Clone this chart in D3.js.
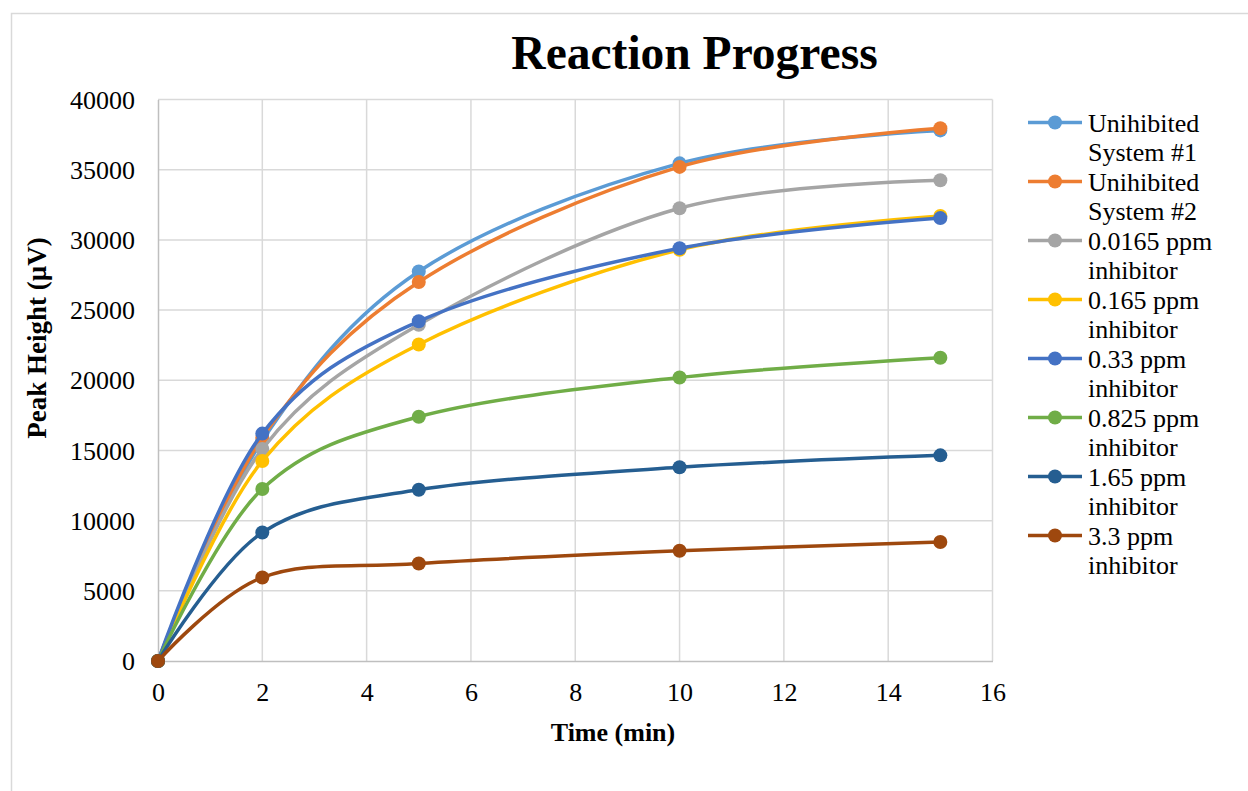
<!DOCTYPE html>
<html>
<head>
<meta charset="utf-8">
<script src="https://cdn.jsdelivr.net/npm/d3@7"></script>
<style>
  html, body { margin: 0; padding: 0; background: #fff; }
  svg { display: block; font-family: "Liberation Serif", "Times New Roman", serif; }
</style>
</head>
<body>
<svg id="chart" width="1248" height="791"></svg>
<script>
// Sampling times (min)
const times = [0, 2, 5, 10, 15];

// Peak height (µV) for each run
const unihibited1 = [0, 15700, 27750, 35450, 37800];
const unihibited2 = [0, 15900, 27000, 35200, 37950];
const inhib00165 = [0, 15100, 23950, 32250, 34250];
const inhib0165 = [0, 14250, 22550, 29300, 31700];
const inhib033 = [0, 16200, 24200, 29400, 31550];
const inhib0825 = [0, 12250, 17400, 20200, 21600];
const inhib165 = [0, 9150, 12200, 13800, 14650];
const inhib33 = [0, 5950, 6950, 7850, 8480];

const seriesNames = [
  ["Unihibited", "System #1"],
  ["Unihibited", "System #2"],
  ["0.0165 ppm", "inhibitor"],
  ["0.165 ppm", "inhibitor"],
  ["0.33 ppm", "inhibitor"],
  ["0.825 ppm", "inhibitor"],
  ["1.65 ppm", "inhibitor"],
  ["3.3 ppm", "inhibitor"]
];
const seriesValues = [unihibited1, unihibited2, inhib00165, inhib0165, inhib033, inhib0825, inhib165, inhib33];
const seriesColors = ["#5B9BD5", "#ED7D31", "#A5A5A5", "#FFC000", "#4472C4", "#70AD47", "#255E91", "#9E480E"];

const xTicks = [0, 2, 4, 6, 8, 10, 12, 14, 16];
const yTicks = [0, 5000, 10000, 15000, 20000, 25000, 30000, 35000, 40000];

const serif = "'Liberation Serif', 'Times New Roman', serif";
const svg = d3.select("#chart");

// chart frame
svg.append("rect")
  .attr("x", 11.5).attr("y", 13.5)
  .attr("width", 1300).attr("height", 900)
  .attr("fill", "#fff").attr("stroke", "#d9d9d9").attr("stroke-width", 1.5);

const plot = { left: 158, right: 992.5, top: 99.5, bottom: 661 };

const x = d3.scaleLinear().domain([0, 16]).range([plot.left, plot.right]);
const y = d3.scaleLinear().domain([0, 40000]).range([plot.bottom, plot.top]);

// gridlines
const grid = svg.append("g");
grid.selectAll("line.h").data(yTicks.filter(d => d > 0)).join("line")
  .attr("x1", plot.left).attr("x2", plot.right)
  .attr("y1", d => y(d)).attr("y2", d => y(d))
  .attr("stroke", "#d9d9d9").attr("stroke-width", 1.5);
grid.selectAll("line.v").data(xTicks.filter(d => d > 0)).join("line")
  .attr("x1", d => x(d)).attr("x2", d => x(d))
  .attr("y1", plot.top).attr("y2", plot.bottom)
  .attr("stroke", "#d9d9d9").attr("stroke-width", 1.5);

// axes
const xAxis = svg.append("g")
  .attr("transform", `translate(0,${plot.bottom})`)
  .call(d3.axisBottom(x).tickValues(xTicks).tickSize(0).tickPadding(0).tickFormat(d3.format("d")));
xAxis.attr("font-family", null);
xAxis.select(".domain").attr("stroke", "#bfbfbf").attr("stroke-width", 1.5);
xAxis.selectAll("text")
  .style("font-family", serif).attr("font-size", 26).attr("fill", "#000")
  .attr("dy", null).attr("y", 40);

const yAxis = svg.append("g")
  .attr("transform", `translate(${plot.left},0)`)
  .call(d3.axisLeft(y).tickValues(yTicks).tickSize(0).tickPadding(0).tickFormat(d3.format("d")));
yAxis.attr("font-family", null);
yAxis.select(".domain").attr("stroke", "#bfbfbf").attr("stroke-width", 1.5);
yAxis.selectAll("text")
  .style("font-family", serif).attr("font-size", 26).attr("fill", "#000")
  .attr("x", -23).attr("dy", "0.33em");

// series
const line = d3.line()
  .x((d, i) => x(times[i]))
  .y(d => y(d))
  .curve(d3.curveCardinal.tension(0));

const series = svg.append("g").selectAll("g").data(seriesValues).join("g");
series.append("path")
  .attr("d", d => line(d))
  .attr("fill", "none")
  .attr("stroke", (d, i) => seriesColors[i])
  .attr("stroke-width", 3.5)
  .attr("stroke-linejoin", "round")
  .attr("stroke-linecap", "round");
series.each(function(vals, si) {
  d3.select(this).selectAll("circle").data(vals).join("circle")
    .attr("cx", (d, i) => x(times[i]))
    .attr("cy", d => y(d))
    .attr("r", 7)
    .attr("fill", seriesColors[si]);
});

// title
svg.append("text")
  .attr("x", 694.5).attr("y", 69)
  .attr("text-anchor", "middle")
  .style("font-family", serif)
  .attr("font-size", 47.5).attr("font-weight", "bold")
  .text("Reaction Progress");

// axis titles
svg.append("text")
  .attr("x", 613).attr("y", 741)
  .attr("text-anchor", "middle")
  .style("font-family", serif)
  .attr("font-size", 26).attr("font-weight", "bold")
  .text("Time (min)");

svg.append("text")
  .attr("transform", "translate(46,338) rotate(-90)")
  .attr("text-anchor", "middle")
  .style("font-family", serif)
  .attr("font-size", 27).attr("font-weight", "bold")
  .text("Peak Height (µV)");

// legend
const legendRows = svg.append("g").selectAll("g").data(seriesNames).join("g")
  .attr("transform", (d, i) => `translate(0,${122.5 + i * 59})`);
legendRows.append("line")
  .attr("x1", 1028).attr("x2", 1082).attr("y1", 0).attr("y2", 0)
  .attr("stroke", (d, i) => seriesColors[i]).attr("stroke-width", 3.5);
legendRows.append("circle")
  .attr("cx", 1055).attr("cy", 0).attr("r", 7)
  .attr("fill", (d, i) => seriesColors[i]);
legendRows.selectAll("text").data(d => d).join("text")
  .attr("x", 1088)
  .attr("y", (d, i) => 9 + i * 29.5)
  .style("font-family", serif)
  .attr("font-size", 26)
  .attr("fill", "#000")
  .text(d => d);
</script>
</body>
</html>
